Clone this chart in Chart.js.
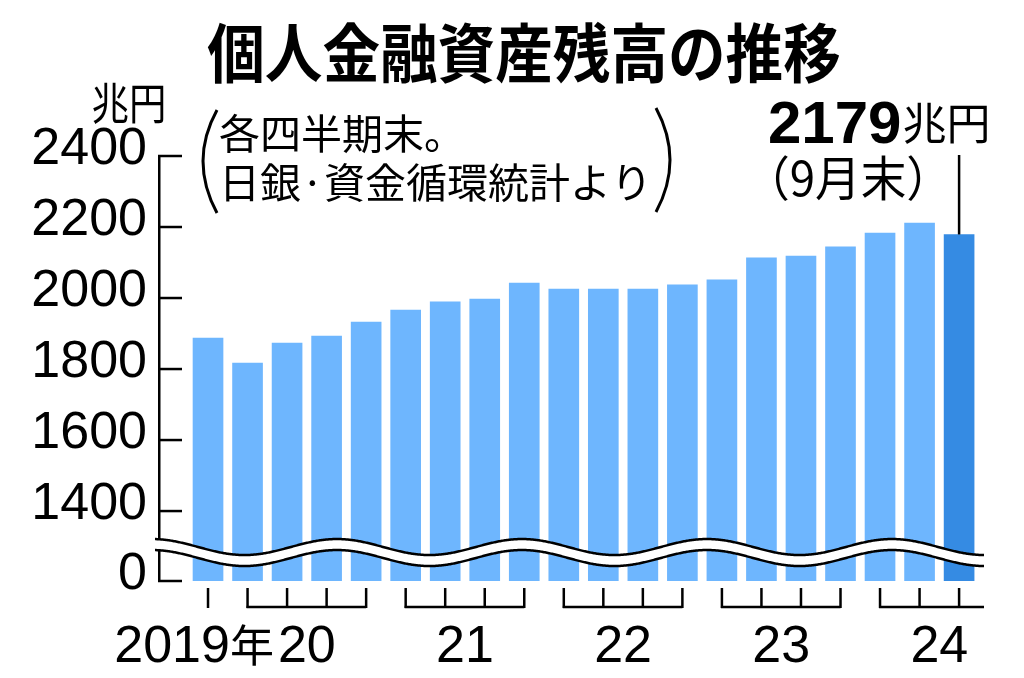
<!DOCTYPE html>
<html lang="ja">
<head>
<meta charset="utf-8">
<title>個人金融資産残高の推移</title>
<script src="https://cdn.jsdelivr.net/npm/chart.js@4.4.1/dist/chart.umd.min.js"></script>
<style>
  html, body { margin: 0; padding: 0; background: #fff; }
  #chart { display: block; }
</style>
</head>
<body>
<canvas id="chart" width="1024" height="678"></canvas>
<script>
// 四半期末ごとの個人金融資産残高(兆円)
const quarters = [
  "2019-12",
  "2020-03", "2020-06", "2020-09", "2020-12",
  "2021-03", "2021-06", "2021-09", "2021-12",
  "2022-03", "2022-06", "2022-09", "2022-12",
  "2023-03", "2023-06", "2023-09", "2023-12",
  "2024-03", "2024-06", "2024-09",
];
const balances = [
  1887,
  1817, 1873, 1893, 1932,
  1966, 1989, 1997, 2042,
  2025, 2025, 2025, 2037,
  2051, 2113, 2118, 2144,
  2183, 2211, 2179,
];
const yTicks = [1400, 1600, 1800, 2000, 2200, 2400];
const yAxisMin = 1203; // 省略線の下端。ここを「0」と表示する
const yearLabels = ["2019年", "20", "21", "22", "23", "24"];

const titleText = "個人金融資産残高の推移";
const unitText = "兆円";
const noteLines = ["各四半期末。", "日銀·資金循環統計より"];
const latestValue = "2179";
const latestUnit = "兆円";
const latestNote = "（9月末）";

const lightBlue = "#6eb6fe";
const darkBlue = "#358be3";
const cjk = '"Noto Sans CJK JP", sans-serif';
const num = '"Liberation Sans", Arial, sans-serif';

// 横に少し詰めた文字を描く
function drawText(ctx, text, x, y, font, align, sx, baseline) {
  ctx.save();
  ctx.font = font;
  ctx.fillStyle = "#000";
  ctx.textAlign = align;
  ctx.textBaseline = baseline || "middle";
  ctx.translate(x, y);
  ctx.scale(sx || 1, 1);
  ctx.fillText(text, 0, 0);
  ctx.restore();
}

function line(ctx, x1, y1, x2, y2) {
  ctx.beginPath();
  ctx.moveTo(x1, y1);
  ctx.lineTo(x2, y2);
  ctx.stroke();
}

const overlay = {
  id: "overlay",
  afterDraw(chart) {
    const ctx = chart.ctx;
    const xs = chart.scales.x;
    const ys = chart.scales.y;
    const area = chart.chartArea;

    ctx.save();
    ctx.strokeStyle = "#000";
    ctx.lineWidth = 2.5;

    // 目盛り(内向き)
    ys.ticks.forEach((t) => {
      const py = ys.getPixelForValue(t.value);
      line(ctx, area.left - 1, py, area.left + 23, py);
    });

    // 省略の波線
    const waveMid = (ys.getPixelForValue(1400) + ys.getPixelForValue(yAxisMin)) / 2 + 1;
    const waveAmp = 8, wavePeriod = 185, wavePhase = 152, waveGap = 11;
    const x0 = area.left - 4, x1 = area.right;
    const waveY = (x) => waveMid - waveAmp * Math.cos((2 * Math.PI * (x - wavePhase)) / wavePeriod);
    ctx.beginPath();
    for (let x = x0; x <= x1; x++) ctx.lineTo(x, waveY(x));
    for (let x = x1; x >= x0; x--) ctx.lineTo(x, waveY(x) + waveGap);
    ctx.closePath();
    ctx.fillStyle = "#fff";
    ctx.fill();
    [0, waveGap].forEach((off) => {
      ctx.beginPath();
      for (let x = x0; x <= x1; x++) ctx.lineTo(x, waveY(x) + off);
      ctx.stroke();
    });

    // 年ごとのかぎ括弧
    const groups = [];
    quarters.forEach((q, i) => {
      const yr = q.slice(0, 4);
      const qn = Number(q.slice(5)) / 3;
      if (!groups.length || groups[groups.length - 1].year !== yr) {
        groups.push({ year: yr, first: i, last: i, startQ: qn });
      } else {
        groups[groups.length - 1].last = i;
      }
    });
    const tickTop = 588, tickBottom = 607, labelBase = 662;
    groups.forEach((g, gi) => {
      for (let i = g.first; i <= g.last; i++) {
        const px = xs.getPixelForValue(i);
        line(ctx, px, tickTop, px, tickBottom + 1);
      }
      if (g.last > g.first) {
        let right = xs.getPixelForValue(g.last);
        if (gi === groups.length - 1 && g.last - g.first < 3) right = area.right;
        line(ctx, xs.getPixelForValue(g.first) - 1, tickBottom, right, tickBottom);
      }
    });

    // 年ラベル
    const labelFont = `52px ${num}`;
    const centers = groups.map((g) => xs.getPixelForValue(g.first - (g.startQ - 1) + 1.5));
    groups.forEach((g, gi) => {
      const text = yearLabels[gi];
      if (gi === 0) {
        // 最初の年は次のラベルの左に詰める
        ctx.font = labelFont;
        const nextLeft = centers[1] - ctx.measureText(yearLabels[1]).width / 2 - 4;
        const digits = text.replace(/\D/g, "");
        const suffix = text.replace(/\d/g, "");
        ctx.font = `44px ${cjk}`;
        const sw = ctx.measureText(suffix).width;
        drawText(ctx, suffix, nextLeft, labelBase, `44px ${cjk}`, "right", 1, "alphabetic");
        drawText(ctx, digits, nextLeft - sw, labelBase, labelFont, "right", 1, "alphabetic");
      } else {
        drawText(ctx, text, centers[gi], labelBase, labelFont, "center", 1, "alphabetic");
      }
    });

    // タイトルと単位
    drawText(ctx, titleText, 524, 53, `bold 64px ${cjk}`, "center", 0.9);
    drawText(ctx, unitText, 129, 103, `44px ${cjk}`, "center", 0.85);

    // 出典の注記と丸括弧
    drawText(ctx, noteLines[0], 219, 133, `41px ${cjk}`, "left", 1);
    drawText(ctx, noteLines[1], 219, 182, `41px ${cjk}`, "left", 1);
    ctx.lineWidth = 3;
    ctx.beginPath();
    ctx.moveTo(217, 110);
    ctx.quadraticCurveTo(189, 161, 217, 213);
    ctx.stroke();
    ctx.beginPath();
    ctx.moveTo(656, 108);
    ctx.quadraticCurveTo(684, 160, 656, 212);
    ctx.stroke();

    // 最新値の注記
    const last = balances.length - 1;
    ctx.font = `bold 60px ${num}`;
    const vw = ctx.measureText(latestValue).width;
    drawText(ctx, latestValue, 768, 143, `bold 60px ${num}`, "left", 1, "alphabetic");
    drawText(ctx, latestUnit, 768 + vw + 1, 140, `44px ${cjk}`, "left", 1, "alphabetic");
    drawText(ctx, latestNote, 848, 178, `48px ${cjk}`, "center", 0.95);
    ctx.lineWidth = 2.5;
    const lx = xs.getPixelForValue(last);
    line(ctx, lx, 155, lx, ys.getPixelForValue(balances[last]));

    ctx.restore();
  },
};

new Chart(document.getElementById("chart"), {
  type: "bar",
  data: {
    datasets: [
      {
        data: balances.map((v, i) => ({ x: i, y: v })),
        backgroundColor: balances.map((v, i) => (i === balances.length - 1 ? darkBlue : lightBlue)),
        barThickness: 30,
        base: yAxisMin,
      },
    ],
  },
  options: {
    responsive: false,
    animation: false,
    layout: { padding: { top: 156, right: 40, bottom: 97, left: 0 } },
    plugins: { legend: { display: false }, tooltip: { enabled: false } },
    scales: {
      x: { type: "linear", min: -1.24, max: 19.63, offset: false, display: false },
      y: {
        min: yAxisMin,
        max: 2400,
        afterFit: (s) => {
          s.width = 159;
        },
        afterBuildTicks: (s) => {
          s.ticks = [yAxisMin, ...yTicks].map((v) => ({ value: v }));
        },
        grid: { display: false, drawTicks: false },
        border: { display: true, color: "#000", width: 2.5 },
        ticks: {
          autoSkip: false,
          color: "#000",
          padding: 12,
          labelOffset: -6,
          font: { family: num, size: 52 },
          callback: (v) => (v === yAxisMin ? "0" : String(v)),
        },
      },
    },
  },
  plugins: [overlay],
});
</script>
</body>
</html>
